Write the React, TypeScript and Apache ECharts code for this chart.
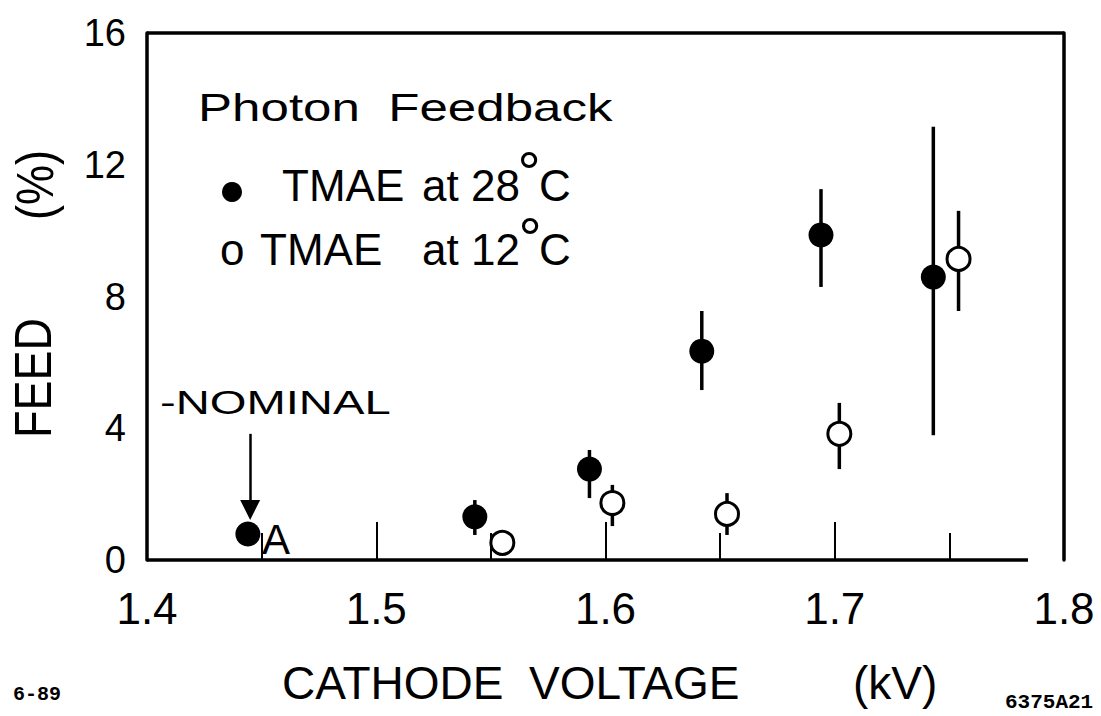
import React, { useEffect, useRef } from "react";
import * as echarts from "echarts";

// ---- data ----
const warmVoltage = [1.444, 1.543, 1.593, 1.642, 1.694, 1.743];
const warmFeed = [0.79, 1.31, 2.76, 6.34, 9.87, 8.59];
const warmLow = [0.79, 0.76, 1.88, 5.16, 8.29, 3.79];
const warmHigh = [0.79, 1.82, 3.34, 7.56, 11.26, 13.15];

const coldVoltage = [1.555, 1.603, 1.653, 1.702, 1.754];
const coldFeed = [0.52, 1.73, 1.4, 3.83, 9.14];
const coldLow = [0.52, 1.03, 0.76, 2.76, 7.56];
const coldHigh = [0.52, 2.28, 2.03, 4.77, 10.6];

const xMin = 1.4;
const xMax = 1.8;
const xStep = 0.1;
const yMin = 0;
const yMax = 16;
const yStep = 4;

const nominalVoltage = 1.445;
const arrowFrom = 3.83;
const arrowTo = 1.52;
const bottomLineEnd = 1.7843;

const FONT = "'Liberation Sans', Arial, Helvetica, sans-serif";
const MONO = "'Liberation Mono', 'DejaVu Sans Mono', monospace";

function txt(
  text: string,
  x: number,
  y: number,
  size: number,
  extra: any = {},
  styleExtra: any = {}
) {
  return {
    type: "text",
    x,
    y,
    silent: true,
    ...extra,
    style: {
      text,
      fontSize: size,
      fontFamily: FONT,
      fill: "#000",
      align: "left",
      verticalAlign: "middle",
      textAlign: "left",
      textVerticalAlign: "middle",
      ...styleExtra,
    },
  };
}

const center = { align: "center", textAlign: "center" };

export default function App() {
  const ref = useRef<HTMLDivElement>(null);

  useEffect(() => {
    if (!ref.current) return;
    const chart = echarts.init(ref.current, null, { renderer: "svg" });

    const errData: any[] = [];
    warmVoltage.forEach((v, i) => errData.push([v, warmLow[i], warmHigh[i]]));
    coldVoltage.forEach((v, i) => errData.push([v, coldLow[i], coldHigh[i]]));

    const frameStyle = { color: "#000", width: 3.5, type: "solid" as const, opacity: 1 };

    const option: any = {
      animation: false,
      backgroundColor: "#fff",
      grid: { left: 147, right: 37, top: 33, bottom: 156, containLabel: false },
      xAxis: {
        type: "value",
        min: xMin,
        max: xMax,
        interval: xStep,
        axisLine: { show: false },
        axisTick: {
          show: true,
          inside: true,
          length: 38,
          lineStyle: { color: "#000", width: 2 },
        },
        minorTick: {
          show: true,
          splitNumber: 2,
          length: 27,
          lineStyle: { color: "#000", width: 2 },
        },
        splitLine: { show: false },
        axisLabel: {
          fontSize: 44,
          fontFamily: FONT,
          color: "#000",
          margin: 26,
          formatter: (v: number) => v.toFixed(1),
        },
      },
      yAxis: [
        {
          type: "value",
          min: yMin,
          max: yMax,
          interval: yStep,
          axisLine: { show: true, lineStyle: frameStyle },
          axisTick: { show: false },
          splitLine: { show: false },
          axisLabel: {
            fontSize: 38,
            fontFamily: FONT,
            color: "#000",
            margin: 21,
          },
        },
        {
          type: "value",
          position: "right",
          min: yMin,
          max: yMax,
          interval: yStep,
          axisLine: { show: true, onZero: false, lineStyle: frameStyle },
          axisTick: { show: false },
          axisLabel: { show: false },
          splitLine: { show: false },
        },
      ],
      series: [
        {
          type: "custom",
          name: "error",
          z: 1,
          silent: true,
          data: errData,
          encode: { x: 0, y: [1, 2] },
          renderItem: (params: any, api: any) => {
            const x = api.value(0);
            const lo = api.value(1);
            const hi = api.value(2);
            if (lo === hi) return null;
            const p1 = api.coord([x, lo]);
            const p2 = api.coord([x, hi]);
            return {
              type: "line",
              shape: { x1: p1[0], y1: p1[1], x2: p2[0], y2: p2[1] },
              style: { stroke: "#000", lineWidth: 3.5 },
            };
          },
        },
        {
          type: "scatter",
          name: "TMAE at 28°C",
          z: 3,
          symbol: "circle",
          symbolSize: 25,
          itemStyle: { color: "#000", opacity: 1 },
          data: warmVoltage.map((v, i) => [v, warmFeed[i]]),
          markLine: {
            silent: true,
            symbol: "none",
            label: { show: false },
            lineStyle: frameStyle,
            emphasis: { disabled: true },
            data: [
              [{ coord: [xMin, yMax] }, { coord: [xMax, yMax] }],
              [{ coord: [xMin, 0] }, { coord: [bottomLineEnd, 0] }],
            ],
          },
        },
        {
          type: "scatter",
          name: "TMAE at 12°C",
          z: 3,
          symbol: "circle",
          symbolSize: 23,
          itemStyle: { color: "#fff", borderColor: "#000", borderWidth: 3, opacity: 1 },
          data: coldVoltage.map((v, i) => [v, coldFeed[i]]),
          markLine: {
            silent: true,
            symbol: ["none", "triangle"],
            symbolSize: 20,
            label: { show: false },
            lineStyle: { color: "#000", width: 2.5, type: "solid", opacity: 1 },
            itemStyle: { color: "#000", opacity: 1 },
            emphasis: { disabled: true },
            data: [
              [
                { coord: [nominalVoltage, arrowFrom] },
                { coord: [nominalVoltage, arrowTo] },
              ],
            ],
          },
        },
      ],
      graphic: [
        txt("Photon  Feedback", 198, 108, 39, { scaleX: 1.31 }),
        {
          type: "circle",
          silent: true,
          shape: { cx: 232, cy: 192, r: 10 },
          style: { fill: "#000" },
        },
        txt("TMAE", 282, 185, 44),
        txt("at 28", 422, 185, 44),
        txt("°", 529, 171, 58, {}, center),
        txt("C", 539, 185, 44),
        txt("o", 220, 249, 44),
        txt("TMAE", 260, 249, 44),
        txt("at 12", 422, 249, 44),
        txt("°", 530, 237, 58, {}, center),
        txt("C", 539, 249, 44),
        txt("-NOMINAL", 160, 403, 33, { scaleX: 1.43 }),
        txt("A", 262, 539, 42),
        txt("FEED", 33, 378, 45, { rotation: Math.PI / 2, scaleY: 1.15 }, center),
        txt("(%)", 35, 185, 45, { rotation: Math.PI / 2, scaleY: 1.15 }, center),
        txt("CATHODE  VOLTAGE", 282, 683, 46),
        txt("(kV)", 853, 683, 46),
        txt("6-89", 13, 694, 20, {}, { fontFamily: MONO, fontWeight: "bold" }),
        txt("6375A21", 1005, 702, 21, {}, { fontFamily: MONO, fontWeight: "bold" }),
      ],
    };

    chart.setOption(option);
    return () => {
      chart.dispose();
    };
  }, []);

  return (
    <div
      ref={ref}
      style={{
        position: "fixed",
        left: 0,
        top: 0,
        width: 1101,
        height: 716,
        background: "#fff",
      }}
    />
  );
}
